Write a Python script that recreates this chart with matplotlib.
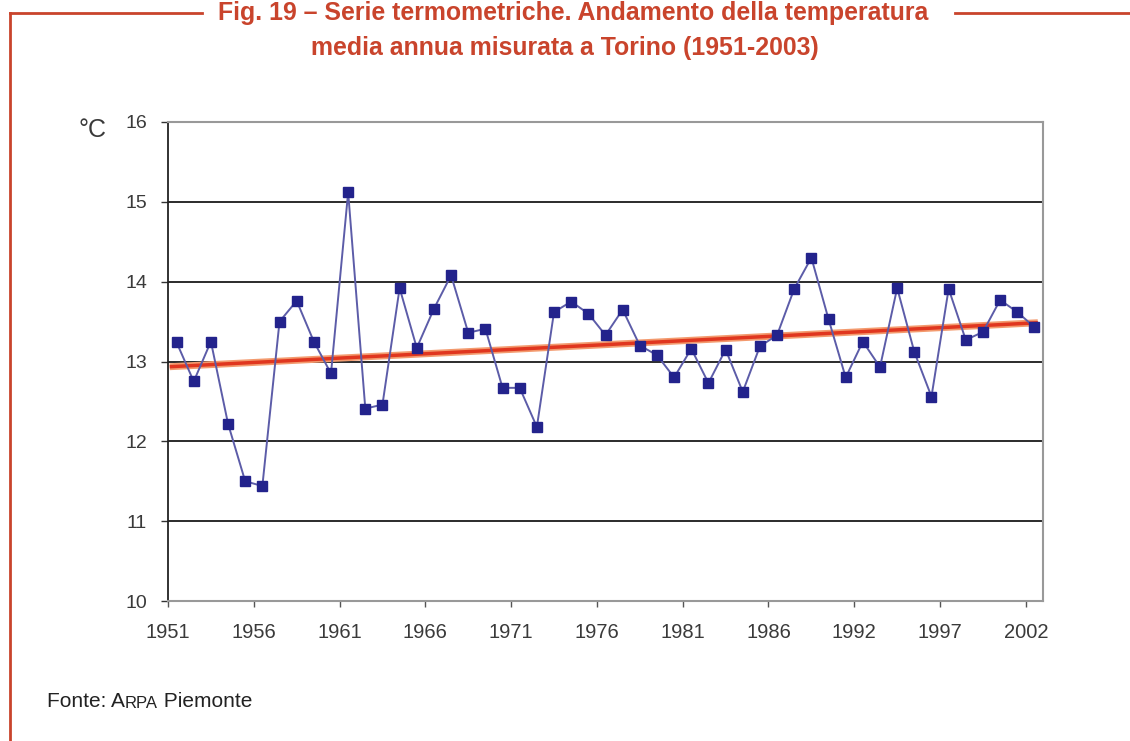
import numpy as np
import matplotlib
matplotlib.use("Agg")
import matplotlib.pyplot as plt

# anni (51 valori, manca un anno tra 1986 e 1992)
years = list(range(1951, 1991)) + list(range(1992, 2003))
temp = [13.24, 12.75, 13.25, 12.22, 11.50, 11.44, 13.50, 13.76, 13.25, 12.85,
        15.12, 12.41, 12.46, 13.92, 13.17, 13.66, 14.08, 13.36, 13.41, 12.67,
        12.67, 12.18, 13.62, 13.75, 13.60, 13.33, 13.65, 13.20, 13.08, 12.80,
        13.16, 12.73, 13.15, 12.62, 13.19, 13.33, 13.91, 14.30, 13.53, 12.80,
        13.25, 12.93, 13.92, 13.12, 12.56, 13.91, 13.27, 13.37, 13.77, 13.62,
        13.43]
yticks = [10, 11, 12, 13, 14, 15, 16]

RED = "#c9442c"
TXT = "#3a3a3a"
plt.rcParams["font.family"] = ["Liberation Sans", "DejaVu Sans"]

fig = plt.figure(figsize=(11.3, 7.41), dpi=100)
ax = fig.add_axes([168 / 1130, 140 / 741, 875 / 1130, 479 / 741])

x = np.arange(len(temp))
k, b = np.polyfit(x, temp, 1)
xt = np.array([x[0] - 0.4, x[-1] + 0.2])
ax.plot(xt, k * xt + b, color="#f39a6e", lw=5, solid_capstyle="butt", zorder=2)
ax.plot(xt, k * xt + b, color="#e0361f", lw=2.5, solid_capstyle="butt", zorder=2)
ax.plot(x, temp, color="#5c5ca8", lw=1.4, zorder=3)
ax.plot(x, temp, ls="none", marker="s", ms=7.5, color="#23238c", zorder=4)

ax.set_xlim(-0.5, len(temp) - 0.5)
ax.set_ylim(10, 16)
ax.set_yticks(yticks)
ax.set_yticklabels([str(v) for v in yticks], fontsize=14, color=TXT)
ax.set_xticks(np.arange(0, len(temp), 5) - 0.5)
ax.set_xticklabels([str(y) for y in years[::5]], fontsize=14.5, color=TXT)
for v in yticks[1:-1]:
    ax.axhline(v, color="#1a1a1a", lw=1.3, zorder=1)
ax.tick_params(axis="y", length=5, width=1, color="#333333", pad=10)
ax.tick_params(axis="x", length=4, width=1, color="#555555", pad=12)
ax.spines["left"].set_color("#222222")
ax.spines["left"].set_linewidth(1.3)
for s in ["top", "right", "bottom"]:
    ax.spines[s].set_color("#999999")
    ax.spines[s].set_linewidth(1.5)

fig.text(79 / 1130, 1 - 137 / 741, "°C", fontsize=18, color=TXT,
         ha="left", va="baseline")

# titolo
fig.text(0.5 + 8 / 1130, 1 - 20 / 741, "Fig. 19 – Serie termometriche. Andamento della temperatura",
         ha="center", va="baseline", fontsize=17.9, color=RED, weight="bold")
fig.text(0.5, 1 - 55 / 741, "media annua misurata a Torino (1951-2003)",
         ha="center", va="baseline", fontsize=17.9, color=RED, weight="bold")

# cornice
fig.add_artist(plt.Line2D([10 / 1130, 202 / 1130], [1 - 13 / 741] * 2, color=RED, lw=2))
fig.add_artist(plt.Line2D([955 / 1130, 1.0], [1 - 13 / 741] * 2, color=RED, lw=2))
fig.add_artist(plt.Line2D([10 / 1130] * 2, [1 - 13 / 741, 0], color=RED, lw=2))

# fonte
t1 = fig.text(47 / 1130, 1 - 707 / 741, "Fonte: A", fontsize=15,
              color="#222222", va="baseline")
a1 = ax.annotate("RPA", xy=(1, 0), xycoords=t1, va="bottom", fontsize=12,
                 color="#222222", annotation_clip=False)
ax.annotate(" Piemonte", xy=(1, 0), xycoords=a1, va="bottom", fontsize=15,
            color="#222222", annotation_clip=False)

fig.savefig("out.png", dpi=100)
